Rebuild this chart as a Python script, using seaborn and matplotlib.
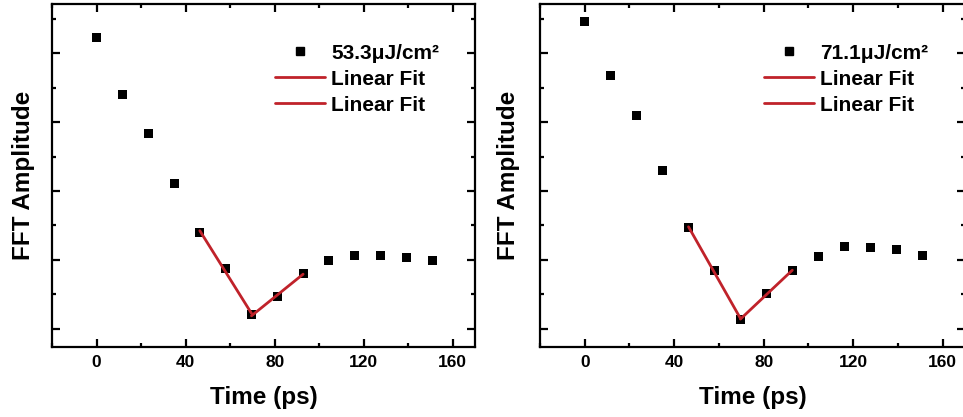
import numpy as np
import pandas as pd
import matplotlib
matplotlib.use("Agg")
import matplotlib.pyplot as plt
import seaborn as sns
from matplotlib.lines import Line2D
from matplotlib.ticker import MultipleLocator, NullFormatter

# Delay times (ps) and FFT amplitudes (arb. units) for two pump fluences
time_ps = [0.0, 11.6, 23.2, 34.8, 46.4, 58.0, 69.6, 81.2, 92.8, 104.4, 116.0, 127.6, 139.2, 150.8]
amp_53 = [9.46, 7.81, 6.66, 5.22, 3.80, 2.74, 1.40, 1.93, 2.61, 2.97, 3.14, 3.14, 3.08, 2.98]
amp_71 = [9.92, 8.35, 7.19, 5.60, 3.93, 2.69, 1.27, 2.01, 2.69, 3.11, 3.38, 3.37, 3.29, 3.14]
fluence_labels = ["53.3\u03bcJ/cm\u00b2", "71.1\u03bcJ/cm\u00b2"]
fit_label = "Linear Fit"
x_ticks = [0, 40, 80, 120, 160]

# Points used for the two linear fits (decay to the minimum, then recovery)
decay_idx = [4, 5, 6]
recovery_idx = [6, 7, 8]

sns.set_theme(style="ticks")
plt.rcParams["font.family"] = ["Liberation Sans", "DejaVu Sans"]
plt.rcParams["font.weight"] = "bold"
plt.rcParams["axes.labelweight"] = "bold"
plt.rcParams["text.color"] = "black"
plt.rcParams["axes.labelcolor"] = "black"
plt.rcParams["xtick.color"] = "black"
plt.rcParams["ytick.color"] = "black"
plt.rcParams["xtick.labelcolor"] = "black"

RED = "#c0222a"
W, H = 963, 417
fig = plt.figure(figsize=(W / 100, H / 100), dpi=100)

panels = [
    (amp_53, fluence_labels[0], [52 / W, 70 / H, 423 / W, 343 / H], 9),
    (amp_71, fluence_labels[1], [540 / W, 70 / H, 425 / W, 343 / H], 11),
]

for amp, lab, rect, ypad in panels:
    ax = fig.add_axes(rect)
    df = pd.DataFrame({"t": time_ps, "a": amp})
    sns.scatterplot(data=df, x="t", y="a", ax=ax, marker="s", s=42,
                    color="black", edgecolor="none", zorder=3, legend=False)
    for idx in (decay_idx, recovery_idx):
        sub = df.iloc[idx]
        k, b = np.polyfit(sub["t"], sub["a"], 1)
        fit = pd.DataFrame({"t": sub["t"], "a": k * sub["t"] + b})
        sns.lineplot(data=fit, x="t", y="a", ax=ax, color=RED, lw=2.0,
                     zorder=4, legend=False)

    ax.set_xlim(-20, 170)
    ax.set_ylim(0.47, 10.43)
    ax.set_xticks(x_ticks)
    ax.xaxis.set_minor_locator(MultipleLocator(20))
    ax.yaxis.set_major_locator(MultipleLocator(2, offset=1))
    ax.yaxis.set_minor_locator(MultipleLocator(1))
    ax.yaxis.set_major_formatter(NullFormatter())
    ax.tick_params(which="both", direction="in", top=True, right=True,
                   width=1.6, color="black")
    ax.tick_params(which="major", length=5.5)
    ax.tick_params(which="minor", length=3)
    ax.tick_params(axis="x", labelsize=12.5, pad=6, labelcolor="black")
    for lbl in ax.get_xticklabels():
        lbl.set_fontweight("bold")
    for sp in ax.spines.values():
        sp.set_linewidth(1.6)
        sp.set_color("black")
    ax.set_xlabel("Time (ps)", fontsize=17.5, fontweight="bold", labelpad=11,
                  color="black")
    ax.set_ylabel("FFT Amplitude", fontsize=17.5, fontweight="bold",
                  labelpad=ypad, color="black")

    handles = [
        Line2D([], [], marker="s", ls="none", color="black", markersize=6),
        Line2D([], [], color=RED, lw=2.0),
        Line2D([], [], color=RED, lw=2.0),
    ]
    leg = ax.legend(handles, [lab, fit_label, fit_label], loc="upper left",
                    bbox_to_anchor=(0.527, 0.884), frameon=False, borderpad=0,
                    borderaxespad=0, handlelength=2.4, handletextpad=0.3,
                    labelspacing=0.33, prop={"size": 15, "weight": "bold"})
    for t in leg.get_texts():
        t.set_color("black")

fig.savefig("out.png", dpi=100)
